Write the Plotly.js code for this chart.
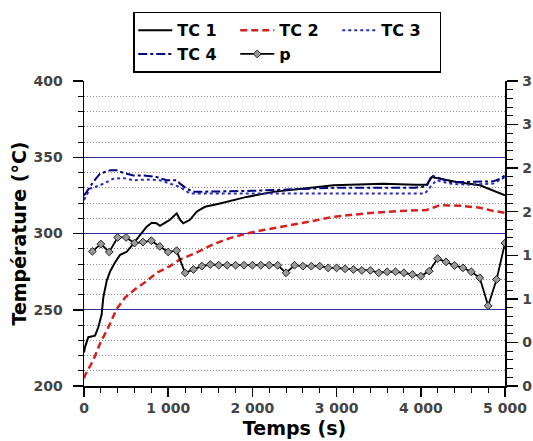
<!DOCTYPE html>
<html>
<head>
<meta charset="utf-8">
<script src="https://cdn.plot.ly/plotly-3.0.1.min.js"></script>
<style>html,body{margin:0;padding:0;background:#fff;}#chart{width:533px;height:441px;}</style>
</head>
<body>
<div id="chart"></div>
<script>
// ---- data ----
const tc1Time = [0,12,51,131,170,210,229,270,309,368,428,507,546,606,665,745,804,860,902,960,1021,1101,1140,1179,1259,1338,1437,1615,1932,2248,2565,2842,2961,3159,3555,3931,4070,4129,4228,4426,4703,4861,5000];
const tc1Temp = [222,225.5,232,233,238.5,247,258,269,275,281,286,288,290.5,295,299,304.5,307,306.7,305,307,309,313.2,309,306.7,309,314.3,317.5,319.7,324,327.3,329.4,331,331.6,332,332.7,332,332,337,336,333.8,331.6,328.4,325.1];

const tc2Time = [0,12,110,190,289,388,487,606,745,863,1021,1140,1338,1536,1734,1932,2130,2328,2526,2684,2961,3357,3753,4070,4228,4466,4703,4861,5000];
const tc2Temp = [205,207.1,216.9,227.7,238.5,250.5,258,263.4,268.8,274.2,278.6,283,287.5,293,297,300,302.3,304.3,306,307.8,311,313.2,314.8,315.4,318.6,318.2,316.9,314.8,313.6];

const tc3Time = [0,71,190,348,467,586,745,902,1021,1140,1259,1338,2000,3000,4050,4129,4188,4347,4545,4861,5000];
const tc3Temp = [322,329.4,331.6,335.9,336.4,334.9,335.4,334.9,332.7,330.5,326.2,326.2,326.2,326.2,326.2,331.6,334.9,332.7,332,332.7,337];

const tc4Time = [0,32,110,190,309,388,467,586,704,863,982,1101,1140,1220,1298,2000,2684,3000,3931,4070,4129,4188,4347,4545,4861,4940,5000];
const tc4Temp = [325,327.3,333.8,339.2,341.4,341.4,339.8,338.1,338.1,337,334.9,334.9,332.7,329.4,327.3,328,329.4,330,330,331,338.1,337,333.8,333.8,334.2,335.9,338.1];

const pTime = [100,200,300,400,500,600,700,800,900,1000,1100,1200,1300,1400,1500,1600,1700,1800,1900,2000,2100,2200,2300,2400,2500,2600,2700,2800,2900,3000,3100,3200,3300,3400,3500,3600,3700,3800,3900,4000,4100,4200,4300,4400,4500,4600,4700,4800,4900,5000];
const pValue = [1.545,1.629,1.538,1.705,1.705,1.640,1.652,1.667,1.602,1.538,1.553,1.299,1.337,1.375,1.394,1.386,1.386,1.386,1.386,1.386,1.386,1.386,1.386,1.299,1.386,1.375,1.375,1.375,1.356,1.356,1.345,1.337,1.326,1.326,1.299,1.311,1.311,1.299,1.280,1.261,1.318,1.462,1.424,1.383,1.356,1.311,1.242,0.920,1.223,1.640];

const pTickVals = [0,0.5,1,1.5,2,2.5,3,3.5];
const pTickText = ['0','0','1','1','2','2','3','3'];
const majorGridVals = [250,300,350];

const seriesNames = ['TC 1','TC 2','TC 3','TC 4','p'];

// ---- chart ----
const FONT = 'DejaVu Sans, Liberation Sans, sans-serif';
const traces = [
  {x: [], y: [], yaxis: 'y3', showlegend: false, hoverinfo: 'skip', mode: 'lines'},
  {x: tc1Time, y: tc1Temp, name: seriesNames[0], legendgroup: 'c1', mode: 'lines', line: {color: '#000000', width: 2}},
  {x: tc2Time, y: tc2Temp, name: seriesNames[1], legendgroup: 'c2', mode: 'lines', line: {color: '#d62020', width: 2.5, dash: '7px,4px'}},
  {x: tc3Time, y: tc3Temp, name: seriesNames[2], legendgroup: 'c3', mode: 'lines', line: {color: '#2b2bbb', width: 2, dash: 'dot'}},
  {x: tc4Time, y: tc4Temp, name: seriesNames[3], legendgroup: 'c1', mode: 'lines', line: {color: '#000080', width: 2, dash: 'dashdot'}},
  {x: pTime, y: pValue, name: seriesNames[4], legendgroup: 'c2', mode: 'lines+markers', yaxis: 'y2',
   line: {color: '#000000', width: 1.8},
   marker: {symbol: 'diamond', size: 6, color: '#999999', line: {color: '#222222', width: 1}}}
];

const tickFont = {family: FONT, size: 14, color: '#444444', weight: 'bold'};
const layout = {
  width: 533, height: 441,
  margin: {l: 84, r: 28, t: 78, b: 55},
  paper_bgcolor: '#ffffff', plot_bgcolor: '#ffffff',
  font: {family: FONT, color: '#000000'},
  separators: ', ',
  showlegend: true,
  legend: {
    orientation: 'h', x: 0.117, xanchor: 'left', y: 1.227, yanchor: 'top',
    bordercolor: '#000000', borderwidth: 1.5, bgcolor: '#ffffff',
    font: {family: FONT, size: 16, color: '#000000', weight: 'bold'},
    entrywidth: 53, entrywidthmode: 'pixels', itemwidth: 34, tracegroupgap: 0,
    traceorder: 'grouped'
  },
  xaxis: {
    range: [0, 5000], tick0: 0, dtick: 1000, separatethousands: true,
    ticks: 'outside', ticklen: 9, tickwidth: 1.5, tickcolor: '#000',
    showline: true, linecolor: '#000', linewidth: 1.5,
    showgrid: false, zeroline: false,
    minor: {dtick: 200, ticks: 'outside', ticklen: 5, tickwidth: 1, tickcolor: '#000', showgrid: false},
    tickfont: tickFont,
    title: {text: 'Temps (s)', font: {family: FONT, size: 19, color: '#000', weight: 'bold'}, standoff: 6}
  },
  yaxis: {
    range: [200, 400], tick0: 200, dtick: 50,
    ticks: 'outside', ticklen: 10, tickwidth: 1.5, tickcolor: '#000',
    showline: true, linecolor: '#000', linewidth: 1.5,
    showgrid: false, zeroline: false, ticklabelstandoff: 7,
    minor: {dtick: 10, ticks: 'outside', ticklen: 5, tickwidth: 1, tickcolor: '#000',
            showgrid: true, gridcolor: '#8a8a8a', griddash: '1px,2px', gridwidth: 1},
    tickfont: tickFont,
    title: {text: 'Température (°C)', font: {family: FONT, size: 19, color: '#000', weight: 'bold'}, standoff: 2}
  },
  yaxis2: {
    overlaying: 'y', side: 'right', range: [0, 3.5],
    tickmode: 'array', tickvals: pTickVals, ticktext: pTickText,
    ticks: 'outside', ticklen: 11, tickwidth: 1.5, tickcolor: '#000',
    showline: true, linecolor: '#000', linewidth: 1.5, ticklabelstandoff: 2,
    showgrid: false, zeroline: false,
    minor: {dtick: 0.1, ticks: 'outside', ticklen: 6, tickwidth: 1, tickcolor: '#000', showgrid: false},
    tickfont: tickFont
  },
  yaxis3: {
    overlaying: 'y', side: 'left', range: [200, 400],
    tickmode: 'array', tickvals: majorGridVals,
    showticklabels: false, ticks: '', showline: false, zeroline: false,
    showgrid: true, gridcolor: '#2f2fa8', gridwidth: 1
  }
};

Plotly.newPlot('chart', traces, layout, {displayModeBar: false, staticPlot: true});
</script>
</body>
</html>
